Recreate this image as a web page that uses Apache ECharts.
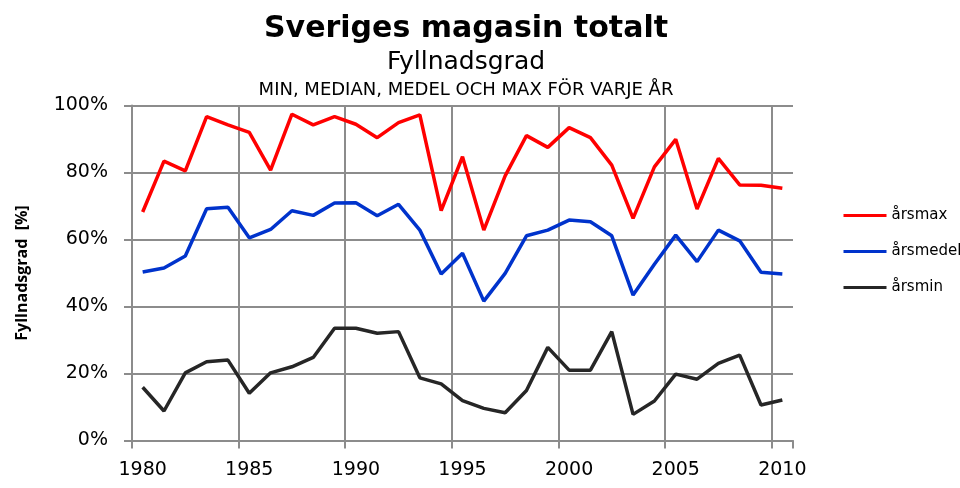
<!DOCTYPE html>
<html lang="sv">

<head>
    <meta charset="UTF-8">
    <title>Sveriges magasin totalt</title>
    <style>
        * {
            margin: 0;
        }

        html,
        body,
        #chart {
            width: 960px;
            height: 488px;
            background: #fff;
        }
    </style>
</head>

<body>
    <div id="chart"></div>
    <script src="https://cdn.jsdelivr.net/npm/echarts@6/dist/echarts.min.js"></script>
    <script>
        var years = [];
        for (var y = 1980; y <= 2010; y++) years.push(String(y));

        var yTicks = [0, 20, 40, 60, 80, 100];

        var arsmax = [68.2, 83.4, 80.5, 96.7, 94.2, 92.0, 80.7, 97.4, 94.2, 96.7,
            94.4, 90.4, 94.9, 97.2, 68.6, 84.7, 62.8, 79.0, 91.0, 87.5,
            93.4, 90.4, 82.2, 66.3, 81.7, 89.9, 69.1, 84.2, 76.3, 76.2, 75.3];
        var arsmedel = [50.3, 51.5, 55.1, 69.2, 69.6, 60.5, 63.0, 68.6, 67.2, 70.9,
            71.0, 67.1, 70.5, 62.8, 49.7, 55.9, 41.6, 49.9, 61.1, 62.8,
            65.8, 65.3, 61.1, 43.4, 52.6, 61.3, 53.4, 62.8, 59.6, 50.2, 49.7];
        var arsmin = [15.9, 8.8, 20.2, 23.5, 24.0, 14.1, 20.2, 22.0, 24.8, 33.5,
            33.5, 32.0, 32.5, 18.7, 16.9, 11.9, 9.6, 8.3, 14.9, 27.8,
            21.0, 21.0, 32.5, 7.8, 11.8, 19.8, 18.3, 23.0, 25.5, 10.6, 12.1];

        var seriesNames = ['årsmax', 'årsmedel', 'årsmin'];
        var seriesData = [arsmax, arsmedel, arsmin];
        var colors = ['#ff0000', '#0033cc', '#262626'];

        var chart = echarts.init(document.getElementById('chart'));
        var gridColor = '#8c8c8c';

        var option = {
            animation: false,
            title: [
                {
                    text: 'Sveriges magasin totalt', left: 461, top: 9, textAlign: 'center',
                    textStyle: { fontFamily: 'DejaVu Sans', fontWeight: 'bold', fontSize: 30, color: '#000' }
                },
                {
                    text: 'Fyllnadsgrad', left: 461, top: 45, textAlign: 'center',
                    textStyle: { fontFamily: 'DejaVu Sans', fontWeight: 'normal', fontSize: 25, color: '#000' }
                },
                {
                    text: 'MIN, MEDIAN, MEDEL OCH MAX FÖR VARJE ÅR', left: 461, top: 76, textAlign: 'center',
                    textStyle: { fontFamily: 'DejaVu Sans', fontWeight: 'normal', fontSize: 18, color: '#000' }
                }
            ],
            legend: {
                orient: 'vertical',
                left: 837,
                top: 203,
                itemWidth: 43,
                itemHeight: 14,
                itemGap: 21,
                data: seriesNames,
                itemStyle: { opacity: 0 },
                lineStyle: { width: 3 },
                textStyle: { fontFamily: 'DejaVu Sans', fontSize: 15, color: '#000' }
            },
            grid: { left: 132, right: 167, top: 105.5, bottom: 47.5 },
            xAxis: {
                type: 'category',
                data: years,
                boundaryGap: true,
                axisLine: { lineStyle: { color: gridColor, width: 2 } },
                axisTick: { show: true, interval: 4, length: 8, lineStyle: { color: gridColor, width: 2 } },
                splitLine: { show: true, interval: 4, showMaxLine: false, lineStyle: { color: gridColor, width: 2 } },
                axisLabel: { interval: 4, margin: 20, fontFamily: 'DejaVu Sans', fontSize: 19, color: '#000' }
            },
            yAxis: {
                type: 'value',
                min: yTicks[0],
                max: yTicks[yTicks.length - 1],
                interval: 20,
                name: 'Fyllnadsgrad  [%]',
                nameLocation: 'middle',
                nameGap: 102,
                nameTextStyle: { fontFamily: 'Open Sans', fontWeight: 'bold', fontSize: 16, color: '#000' },
                axisLine: { show: true, lineStyle: { color: gridColor, width: 2 } },
                axisTick: { show: true, length: 8, lineStyle: { color: gridColor, width: 2 } },
                splitLine: { show: true, lineStyle: { color: gridColor, width: 2 } },
                axisLabel: {
                    margin: 24, fontFamily: 'DejaVu Sans', fontSize: 19, color: '#000',
                    formatter: '{value}%'
                }
            },
            series: seriesNames.map(function (name, i) {
                return {
                    name: name,
                    type: 'line',
                    data: seriesData[i],
                    symbol: 'none',
                    color: colors[i],
                    lineStyle: { color: colors[i], width: 3.5 },
                    z: 3 - i
                };
            })
        };
        chart.setOption(option);
    </script>
</body>

</html>
